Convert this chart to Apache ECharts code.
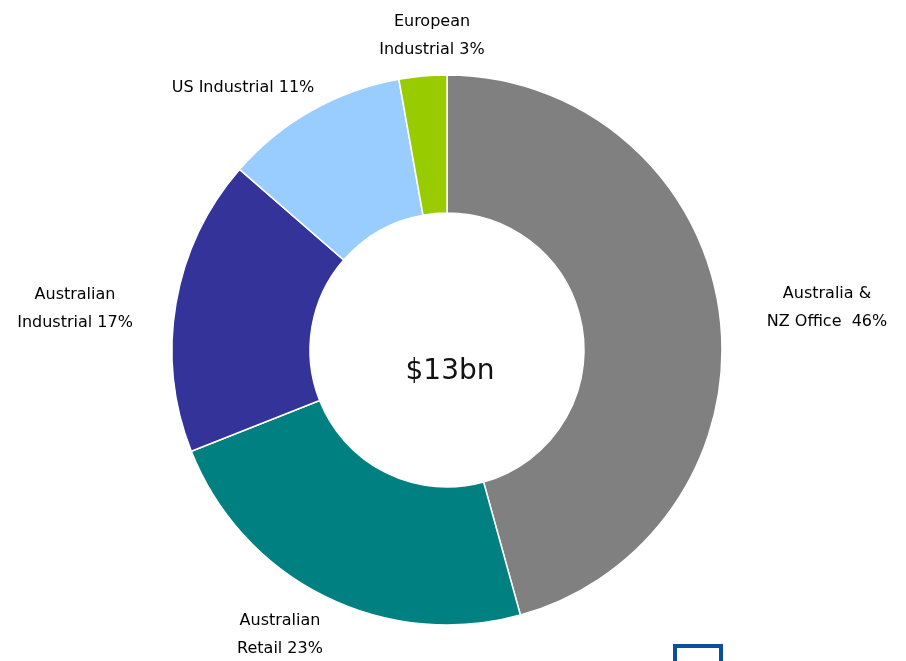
<!DOCTYPE html>
<html>
<head>
<meta charset="utf-8">
<script src="https://cdn.jsdelivr.net/npm/echarts@6/dist/echarts.min.js"></script>
<style>html,body{margin:0;padding:0;background:#fff;}#c{width:906px;height:661px;}</style>
</head>
<body>
<div id="c"></div>
<script>
const categories = ['Australia & NZ Office', 'Australian Retail', 'Australian Industrial', 'US Industrial', 'European Industrial'];
const values = [45.7, 23.3, 17.4, 10.8, 2.8];
const labelTexts = ['Australia &\nNZ Office  46%', 'Australian\nRetail 23%', 'Australian\nIndustrial 17%', 'US Industrial 11%', 'European\nIndustrial 3%'];
const colors = ['#808080', '#008080', '#333399', '#99CCFF', '#99CC00'];
const centerText = '$13bn';
// label anchor positions (px)
const labelPos = [[827, 308], [280, 635], [75, 309], [243, 88], [432, 36]];

const chart = echarts.init(document.getElementById('c'), null, {renderer: 'canvas'});
chart.setOption({
  animation: false,
  backgroundColor: '#ffffff',
  series: [{
    type: 'pie',
    center: [447, 350],
    radius: [137, 275],
    startAngle: 90,
    clockwise: true,
    avoidLabelOverlap: false,
    itemStyle: {borderColor: '#ffffff', borderWidth: 1.5},
    label: {
      show: true,
      position: 'outside',
      formatter: p => labelTexts[p.dataIndex],
      fontFamily: 'DejaVu Sans',
      fontSize: 16,
      lineHeight: 28,
      color: '#000000',
      align: 'center'
    },
    labelLine: {show: false},
    labelLayout: p => ({x: labelPos[p.dataIndex][0], y: labelPos[p.dataIndex][1], align: 'center', verticalAlign: 'middle'}),
    emphasis: {disabled: true},
    data: categories.map((c, i) => ({name: c, value: values[i], itemStyle: {color: colors[i]}}))
  }],
  graphic: [
    {type: 'text', x: 450, y: 372, style: {text: centerText, font: '28px "DejaVu Sans"', fill: '#111111', align: 'center', verticalAlign: 'middle'}},
    {type: 'rect', shape: {x: 675, y: 646, width: 46, height: 30}, style: {fill: '#ffffff', stroke: '#0b4f9c', lineWidth: 4}}
  ]
});
</script>
</body>
</html>
